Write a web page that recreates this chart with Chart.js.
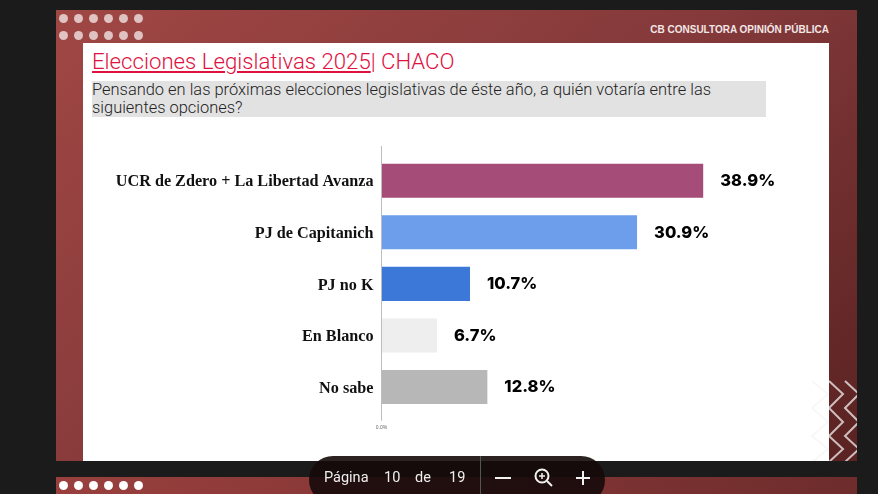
<!DOCTYPE html>
<html lang="es">
<head>
<meta charset="utf-8">
<title>Elecciones Legislativas 2025 | CHACO</title>
<script src="https://cdn.jsdelivr.net/npm/chart.js@4"></script>
<style>
    html, body { margin: 0; height: 100%; background: #1b1b1b; overflow: hidden; }
    body { position: relative; width: 878px; height: 494px; font-family: Roboto, sans-serif; }
    .slide { position: absolute; left: 56px; width: 801px; background: linear-gradient(140deg, #a04744 0%, #84393a 50%, #5a2222 100%); }
    #slide1 { top: 10px; height: 451px; }
    #slide2 { top: 477px; height: 17px; background: linear-gradient(100deg, #99403e, #6e2c2c); }
    .dot { position: absolute; width: 9px; height: 9px; border-radius: 50%; background: rgba(255,255,255,.68); }
    #blanco { position: absolute; left: 83px; top: 43px; width: 746px; height: 418px; background: #fff; }
    #marca { position: absolute; right: 49px; top: 24px; font: bold 10px "Liberation Sans", sans-serif; color: #f2e6e6; }
    #titulo { position: absolute; left: 92px; top: 47px; font-size: 22.2px; font-weight: 300; color: #e0103f; white-space: nowrap; line-height: 28px; }
    #titulo u { text-decoration-thickness: 1.5px; text-underline-offset: 2px; }
    #pregunta { position: absolute; left: 92px; top: 81px; width: 674px; height: 36px; background: #e2e2e2; color: #222; font-size: 16.45px; font-weight: 300; line-height: 18px; white-space: nowrap; }
    #grafico { position: absolute; left: 83px; top: 43px; }
    #zigzag { position: absolute; left: 0; top: 0; pointer-events: none; }
    #barra { position: absolute; left: 309px; top: 456px; width: 296px; height: 48px; border-radius: 24px; background: rgba(22,10,10,.9); color: #eee; font-size: 14.5px; }
    #barra span { position: absolute; top: 13px; line-height: 18px; }
    #barra i { position: absolute; left: 171px; top: 0; height: 100%; width: 1px; background: #555; }
</style>
</head>
<body>
<div class="slide" id="slide1"></div>
<div class="slide" id="slide2"></div>
<div id="blanco"></div>
<div id="marca">CB CONSULTORA OPINIÓN PÚBLICA</div>
<div id="titulo"><u>Elecciones Legislativas 2025</u>| CHACO</div>
<div id="pregunta">Pensando en las próximas elecciones legislativas de éste año, a quién votaría entre las<br>siguientes opciones?</div>
<canvas id="grafico" width="746" height="418"></canvas>
<svg id="zigzag" width="878" height="494" viewBox="0 0 878 494">
    <defs><clipPath id="recorte"><rect x="56" y="10" width="801" height="451"/></clipPath></defs>
    <g clip-path="url(#recorte)" fill="none" stroke-width="2">
        <polyline stroke="rgba(0,0,0,.03)" points="812,381 828,394 812,408 828,422 812,436 828,449 812,462"/>
        <polyline stroke="rgba(255,255,255,.7)" points="829,381 843,394 829,408 843,422 829,436 843,449 829,462"/>
        <polyline stroke="rgba(255,255,255,.7)" points="845,381 859,394 845,408 859,422 845,436 859,449 845,462"/>
    </g>
</svg>
<div id="barra">
    <span style="left:15px">Página</span>
    <span style="left:75px">10</span>
    <span style="left:106px">de</span>
    <span style="left:140px">19</span>
    <i></i>
    <svg width="296" height="40" style="position:absolute;left:0;top:0" fill="none" stroke="#f2f2f2" stroke-width="2">
        <line x1="186" y1="22" x2="202" y2="22"/>
        <circle cx="233" cy="20" r="6.5"/>
        <line x1="238" y1="25" x2="243" y2="30"/>
        <line x1="230" y1="20" x2="236" y2="20" stroke-width="1.5"/>
        <line x1="233" y1="17" x2="233" y2="23" stroke-width="1.5"/>
        <line x1="274" y1="15" x2="274" y2="29"/>
        <line x1="267" y1="22" x2="281" y2="22"/>
    </svg>
</div>
<script>
// Datos del gráfico
const categorias = ['UCR de Zdero + La Libertad Avanza', 'PJ de Capitanich', 'PJ no K', 'En Blanco', 'No sabe'];
const valores = [38.9, 30.9, 10.7, 6.7, 12.8];
const coloresBarras = ['#a54d78', '#6d9eeb', '#3c78d8', '#eeeeee', '#b7b7b7'];

// Puntos del encabezado
const filasPuntos = [[18.5, 'slide'], [35, 'slide'], [485, 'blanco']];
const columnasPuntos = [63.5, 78.5, 93, 108.5, 123.5, 138.5];
filasPuntos.forEach(([y, tipo]) => {
    columnasPuntos.forEach(x => {
        const d = document.createElement('div');
        d.className = 'dot';
        d.style.left = (x - 4.5) + 'px';
        d.style.top = (y - 4.5) + 'px';
        if (tipo === 'blanco') d.style.background = '#fff';
        document.body.insertBefore(d, document.getElementById('blanco'));
    });
});

// Eje vertical más largo que las barras y etiquetas de valor
const extras = {
    id: 'extras',
    afterDatasetsDraw(chart) {
        const { ctx, scales: { x, y } } = chart;
        const x0 = x.getPixelForValue(0);
        ctx.save();
        ctx.strokeStyle = '#bdbdbd';
        ctx.lineWidth = 1;
        ctx.beginPath();
        ctx.moveTo(x0, y.top - 9);
        ctx.lineTo(x0, y.bottom + 8);
        ctx.stroke();
        ctx.fillStyle = '#000';
        ctx.font = '800 16.5px Inter';
        ctx.textAlign = 'left';
        ctx.textBaseline = 'middle';
        valores.forEach((v, i) => {
            ctx.fillText(v.toFixed(1) + '%', x.getPixelForValue(v) + 17, y.getPixelForValue(i) + 0.5);
        });
        ctx.restore();
    }
};

new Chart(document.getElementById('grafico'), {
    type: 'bar',
    data: {
        labels: categorias,
        datasets: [{
            data: valores,
            backgroundColor: coloresBarras,
            categoryPercentage: 1,
            barPercentage: 0.66
        }]
    },
    options: {
        indexAxis: 'y',
        responsive: false,
        animation: false,
        layout: { padding: { top: 112, right: 34 } },
        plugins: { legend: { display: false }, tooltip: { enabled: false } },
        scales: {
            x: {
                min: 0,
                max: 50,
                grid: { display: false, drawTicks: false },
                border: { display: false },
                ticks: {
                    padding: 12,
                    color: '#666',
                    font: { size: 5, family: 'Liberation Sans' },
                    callback: v => v === 0 ? '0.0%' : ''
                },
                afterFit(scale) { scale.height = 48.25; }
            },
            y: {
                grid: { display: false, drawTicks: false },
                border: { display: false },
                ticks: {
                    padding: 8,
                    labelOffset: 1.5,
                    color: '#111',
                    font: { size: 16.2, weight: 'bold', family: 'Liberation Serif' }
                },
                afterFit(scale) { scale.width = 298.5; }
            }
        }
    },
    plugins: [extras]
});
</script>
</body>
</html>
